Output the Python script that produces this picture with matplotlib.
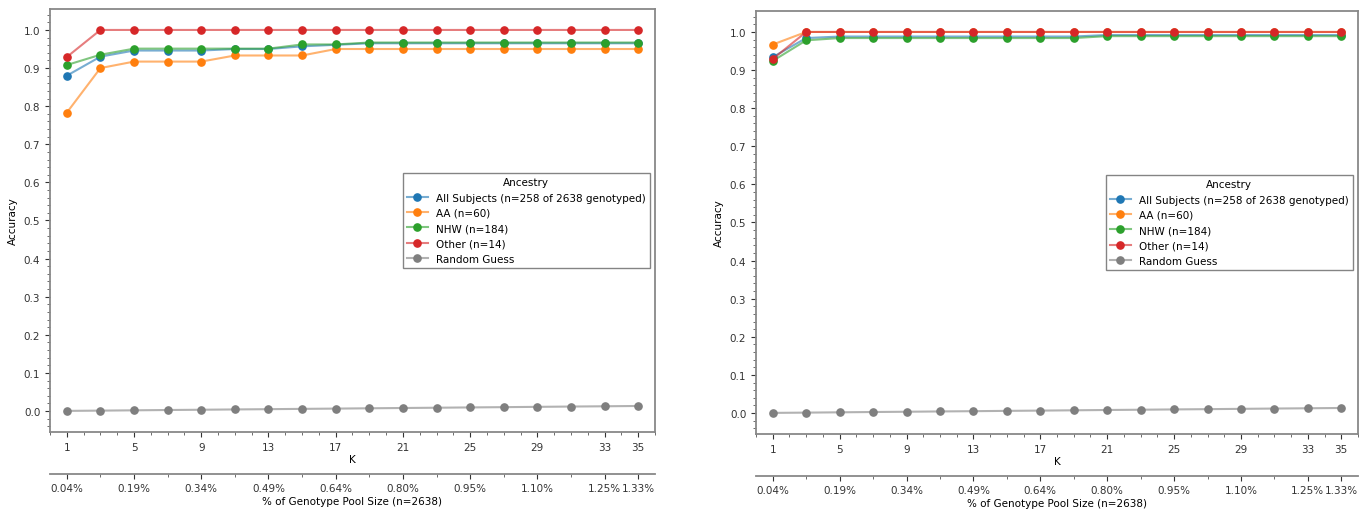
import matplotlib
matplotlib.use("Agg")
import matplotlib.pyplot as plt
from matplotlib.ticker import MultipleLocator, FixedLocator
from matplotlib.colors import to_rgba

K = [1, 3, 5, 7, 9, 11, 13, 15, 17, 19, 21, 23, 25, 27, 29, 31, 33, 35]
k_ticks = [1, 5, 9, 13, 17, 21, 25, 29, 33, 35]
pct_labels = ["0.04%", "0.19%", "0.34%", "0.49%", "0.64%", "0.80%", "0.95%", "1.10%", "1.25%", "1.33%"]

labels = ["All Subjects (n=258 of 2638 genotyped)", "AA (n=60)", "NHW (n=184)", "Other (n=14)", "Random Guess"]
colors = ["#1f77b4", "#ff7f0e", "#2ca02c", "#d62728", "#7f7f7f"]

# Left panel
left_all = [0.880, 0.930, 0.946, 0.946, 0.946, 0.950, 0.950, 0.957, 0.961, 0.965, 0.965, 0.965, 0.965, 0.965, 0.965, 0.965, 0.965, 0.965]
left_aa = [0.783, 0.900, 0.917, 0.917, 0.917, 0.933, 0.933, 0.933, 0.950, 0.950, 0.950, 0.950, 0.950, 0.950, 0.950, 0.950, 0.950, 0.950]
left_nhw = [0.908, 0.935, 0.951, 0.951, 0.951, 0.951, 0.951, 0.962, 0.962, 0.967, 0.967, 0.967, 0.967, 0.967, 0.967, 0.967, 0.967, 0.967]
left_other = [0.929, 1.0, 1.0, 1.0, 1.0, 1.0, 1.0, 1.0, 1.0, 1.0, 1.0, 1.0, 1.0, 1.0, 1.0, 1.0, 1.0, 1.0]

# Right panel
right_all = [0.934, 0.984, 0.988, 0.988, 0.988, 0.988, 0.988, 0.988, 0.988, 0.988, 0.992, 0.992, 0.992, 0.992, 0.992, 0.992, 0.992, 0.992]
right_aa = [0.967, 1.0, 1.0, 1.0, 1.0, 1.0, 1.0, 1.0, 1.0, 1.0, 1.0, 1.0, 1.0, 1.0, 1.0, 1.0, 1.0, 1.0]
right_nhw = [0.924, 0.978, 0.984, 0.984, 0.984, 0.984, 0.984, 0.984, 0.984, 0.984, 0.989, 0.989, 0.989, 0.989, 0.989, 0.989, 0.989, 0.989]
right_other = [0.929, 1.0, 1.0, 1.0, 1.0, 1.0, 1.0, 1.0, 1.0, 1.0, 1.0, 1.0, 1.0, 1.0, 1.0, 1.0, 1.0, 1.0]

random_guess = [0.0004, 0.0011, 0.0019, 0.0027, 0.0034, 0.0042, 0.0049, 0.0057, 0.0064,
                0.0072, 0.0080, 0.0087, 0.0095, 0.0102, 0.0110, 0.0118, 0.0125, 0.0133]

FS = 7.5
SPINE = "#888888"

fig = plt.figure(figsize=(13.7, 5.1), dpi=100)
axL = fig.add_axes([50/1370, 1-433/510, (655-50)/1370, (433-10)/510])
axR = fig.add_axes([756/1370, 1-435/510, (1358-756)/1370, (435-12)/510])

def draw(ax, series):
    for ys, lab, c in zip(series, labels, colors):
        lc = to_rgba(c, 0.6)
        ax.plot(K, ys, color=lc, lw=1.5, marker="o", ms=5.2,
                markerfacecolor=c, markeredgecolor=c, label=lab)
    ax.set_xlim(0, 36)
    ax.set_ylim(-0.055, 1.055)
    ax.xaxis.set_major_locator(FixedLocator(k_ticks))
    ax.xaxis.set_minor_locator(MultipleLocator(1))
    ax.yaxis.set_major_locator(MultipleLocator(0.1))
    ax.yaxis.set_minor_locator(MultipleLocator(0.02))
    ax.set_yticklabels([f"{v:.1f}" for v in ax.get_yticks()])
    ax.tick_params(labelsize=FS, colors="#333333", length=3.5, width=0.8)
    ax.tick_params(which="minor", length=2, width=0.6, colors="#555555")
    ax.set_xlabel("K", fontsize=FS, labelpad=2)
    ax.set_ylabel("Accuracy", fontsize=FS)
    for s in ax.spines.values():
        s.set_color(SPINE)
        s.set_linewidth(1.3)
    leg = ax.legend(title="Ancestry", loc="center right", fontsize=FS,
                    title_fontsize=FS, frameon=True, fancybox=False,
                    borderaxespad=0.5, handlelength=2.0)
    leg.get_frame().set_edgecolor("#666666")
    leg.get_frame().set_linewidth(1.0)

    ax2 = ax.twiny()
    ax2.set_xlim(ax.get_xlim())
    ax2.xaxis.set_ticks_position("bottom")
    ax2.xaxis.set_label_position("bottom")
    ax2.spines["bottom"].set_position(("outward", 30))
    for name in ["top", "left", "right"]:
        ax2.spines[name].set_visible(False)
    ax2.spines["bottom"].set_color(SPINE)
    ax2.spines["bottom"].set_linewidth(1.3)
    ax2.set_xticks(k_ticks)
    ax2.set_xticklabels(pct_labels)
    ax2.set_xticks(K, minor=True)
    ax2.tick_params(labelsize=FS, colors="#333333", length=3.5, width=0.8)
    ax2.tick_params(which="minor", length=2, width=0.6, colors="#555555")
    ax2.set_xlabel("% of Genotype Pool Size (n=2638)", fontsize=FS, labelpad=2)

draw(axL, [left_all, left_aa, left_nhw, left_other, random_guess])
draw(axR, [right_all, right_aa, right_nhw, right_other, random_guess])

fig.savefig("out.png", dpi=100)
